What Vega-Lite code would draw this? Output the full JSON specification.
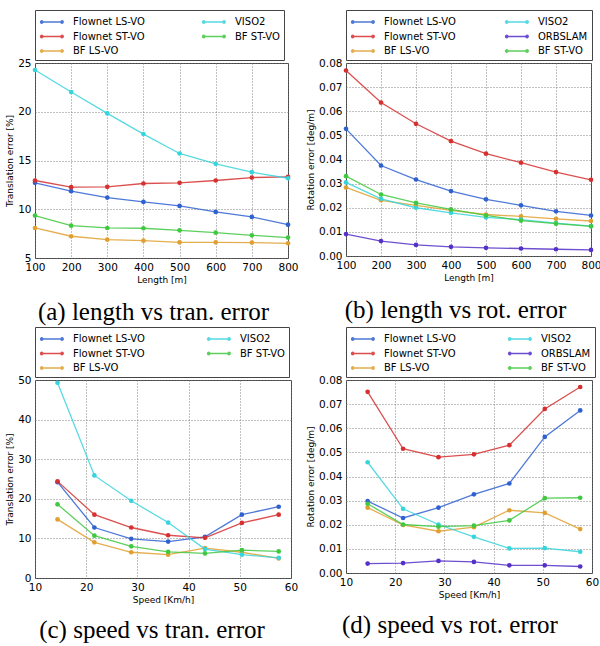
{
  "$schema": "https://vega.github.io/schema/vega-lite/v6.json",
  "padding": {"left": 5, "top": 9, "right": 0, "bottom": 0},
  "background": "white",
  "config": {
    "view": {"stroke": "#444", "strokeWidth": 1},
    "axis": {
      "labelFont": "DejaVu Sans", "labelFontSize": 10.5, "labelColor": "black",
      "titleFont": "DejaVu Sans", "titleFontSize": 9, "titleFontWeight": "normal", "titleColor": "black",
      "grid": true, "gridDash": [1, 2], "gridColor": "#777", "gridOpacity": 0.9,
      "ticks": false, "domain": false, "labelPadding": 4, "titlePadding": 3,
      "labelFlush": false, "labelOverlap": false
    },
    "legend": {
      "orient": "top", "columns": 2, "strokeColor": "#444", "fillColor": "white",
      "padding": 4, "offset": 3, "rowPadding": 1.5,
      "labelFont": "DejaVu Sans", "labelFontSize": 10, "labelColor": "black", "labelOffset": 18,
      "symbolType": "M-1,0L2.4,0M-0.75,-0.17A0.17,0.17,0,1,1,-0.75,0.17A0.17,0.17,0,1,1,-0.75,-0.17M2.15,-0.17A0.17,0.17,0,1,1,2.15,0.17A0.17,0.17,0,1,1,2.15,-0.17",
      "symbolSize": 196, "symbolStrokeWidth": 1.4
    },
    "title": {"orient": "bottom", "font": "Liberation Serif", "fontSize": 25, "fontWeight": "normal", "color": "black", "offset": 15, "anchor": "middle"}
  },
  "datasets": {
    "a": [
      {"x": 100, "y": 12.71, "m": "Flownet LS-VO"}, {"x": 200, "y": 11.85, "m": "Flownet LS-VO"}, {"x": 300, "y": 11.2, "m": "Flownet LS-VO"}, {"x": 400, "y": 10.75, "m": "Flownet LS-VO"}, {"x": 500, "y": 10.34, "m": "Flownet LS-VO"}, {"x": 600, "y": 9.73, "m": "Flownet LS-VO"}, {"x": 700, "y": 9.21, "m": "Flownet LS-VO"}, {"x": 800, "y": 8.42, "m": "Flownet LS-VO"},
      {"x": 100, "y": 12.95, "m": "Flownet ST-VO"}, {"x": 200, "y": 12.26, "m": "Flownet ST-VO"}, {"x": 300, "y": 12.3, "m": "Flownet ST-VO"}, {"x": 400, "y": 12.64, "m": "Flownet ST-VO"}, {"x": 500, "y": 12.71, "m": "Flownet ST-VO"}, {"x": 600, "y": 12.95, "m": "Flownet ST-VO"}, {"x": 700, "y": 13.25, "m": "Flownet ST-VO"}, {"x": 800, "y": 13.32, "m": "Flownet ST-VO"},
      {"x": 100, "y": 8.08, "m": "BF LS-VO"}, {"x": 200, "y": 7.23, "m": "BF LS-VO"}, {"x": 300, "y": 6.88, "m": "BF LS-VO"}, {"x": 400, "y": 6.78, "m": "BF LS-VO"}, {"x": 500, "y": 6.61, "m": "BF LS-VO"}, {"x": 600, "y": 6.61, "m": "BF LS-VO"}, {"x": 700, "y": 6.58, "m": "BF LS-VO"}, {"x": 800, "y": 6.51, "m": "BF LS-VO"},
      {"x": 100, "y": 24.28, "m": "VISO2"}, {"x": 200, "y": 22.02, "m": "VISO2"}, {"x": 300, "y": 19.83, "m": "VISO2"}, {"x": 400, "y": 17.71, "m": "VISO2"}, {"x": 500, "y": 15.72, "m": "VISO2"}, {"x": 600, "y": 14.66, "m": "VISO2"}, {"x": 700, "y": 13.8, "m": "VISO2"}, {"x": 800, "y": 13.18, "m": "VISO2"},
      {"x": 100, "y": 9.35, "m": "BF ST-VO"}, {"x": 200, "y": 8.32, "m": "BF ST-VO"}, {"x": 300, "y": 8.08, "m": "BF ST-VO"}, {"x": 400, "y": 8.05, "m": "BF ST-VO"}, {"x": 500, "y": 7.84, "m": "BF ST-VO"}, {"x": 600, "y": 7.6, "m": "BF ST-VO"}, {"x": 700, "y": 7.33, "m": "BF ST-VO"}, {"x": 800, "y": 7.09, "m": "BF ST-VO"}
    ],
    "b": [
      {"x": 100, "y": 0.0527, "m": "Flownet LS-VO"}, {"x": 200, "y": 0.0375, "m": "Flownet LS-VO"}, {"x": 300, "y": 0.0317, "m": "Flownet LS-VO"}, {"x": 400, "y": 0.0269, "m": "Flownet LS-VO"}, {"x": 500, "y": 0.0235, "m": "Flownet LS-VO"}, {"x": 600, "y": 0.021, "m": "Flownet LS-VO"}, {"x": 700, "y": 0.0185, "m": "Flownet LS-VO"}, {"x": 800, "y": 0.0168, "m": "Flownet LS-VO"},
      {"x": 100, "y": 0.0769, "m": "Flownet ST-VO"}, {"x": 200, "y": 0.0636, "m": "Flownet ST-VO"}, {"x": 300, "y": 0.0548, "m": "Flownet ST-VO"}, {"x": 400, "y": 0.0476, "m": "Flownet ST-VO"}, {"x": 500, "y": 0.0424, "m": "Flownet ST-VO"}, {"x": 600, "y": 0.0387, "m": "Flownet ST-VO"}, {"x": 700, "y": 0.0348, "m": "Flownet ST-VO"}, {"x": 800, "y": 0.0316, "m": "Flownet ST-VO"},
      {"x": 100, "y": 0.0284, "m": "BF LS-VO"}, {"x": 200, "y": 0.0231, "m": "BF LS-VO"}, {"x": 300, "y": 0.021, "m": "BF LS-VO"}, {"x": 400, "y": 0.0189, "m": "BF LS-VO"}, {"x": 500, "y": 0.0172, "m": "BF LS-VO"}, {"x": 600, "y": 0.0164, "m": "BF LS-VO"}, {"x": 700, "y": 0.0154, "m": "BF LS-VO"}, {"x": 800, "y": 0.0145, "m": "BF LS-VO"},
      {"x": 100, "y": 0.0305, "m": "VISO2"}, {"x": 200, "y": 0.0237, "m": "VISO2"}, {"x": 300, "y": 0.02, "m": "VISO2"}, {"x": 400, "y": 0.0179, "m": "VISO2"}, {"x": 500, "y": 0.016, "m": "VISO2"}, {"x": 600, "y": 0.0151, "m": "VISO2"}, {"x": 700, "y": 0.0136, "m": "VISO2"}, {"x": 800, "y": 0.0124, "m": "VISO2"},
      {"x": 100, "y": 0.0091, "m": "ORBSLAM"}, {"x": 200, "y": 0.0062, "m": "ORBSLAM"}, {"x": 300, "y": 0.0046, "m": "ORBSLAM"}, {"x": 400, "y": 0.0038, "m": "ORBSLAM"}, {"x": 500, "y": 0.0034, "m": "ORBSLAM"}, {"x": 600, "y": 0.0031, "m": "ORBSLAM"}, {"x": 700, "y": 0.0028, "m": "ORBSLAM"}, {"x": 800, "y": 0.0025, "m": "ORBSLAM"},
      {"x": 100, "y": 0.0331, "m": "BF ST-VO"}, {"x": 200, "y": 0.0255, "m": "BF ST-VO"}, {"x": 300, "y": 0.022, "m": "BF ST-VO"}, {"x": 400, "y": 0.0193, "m": "BF ST-VO"}, {"x": 500, "y": 0.0168, "m": "BF ST-VO"}, {"x": 600, "y": 0.0147, "m": "BF ST-VO"}, {"x": 700, "y": 0.0134, "m": "BF ST-VO"}, {"x": 800, "y": 0.0123, "m": "BF ST-VO"}
    ],
    "c": [
      {"x": 14.4, "y": 24.2, "m": "Flownet LS-VO"}, {"x": 21.6, "y": 12.75, "m": "Flownet LS-VO"}, {"x": 28.8, "y": 9.9, "m": "Flownet LS-VO"}, {"x": 36.0, "y": 9.2, "m": "Flownet LS-VO"}, {"x": 43.2, "y": 10.4, "m": "Flownet LS-VO"}, {"x": 50.4, "y": 16.0, "m": "Flownet LS-VO"}, {"x": 57.6, "y": 18.0, "m": "Flownet LS-VO"},
      {"x": 14.4, "y": 24.4, "m": "Flownet ST-VO"}, {"x": 21.6, "y": 16.0, "m": "Flownet ST-VO"}, {"x": 28.8, "y": 12.75, "m": "Flownet ST-VO"}, {"x": 36.0, "y": 10.8, "m": "Flownet ST-VO"}, {"x": 43.2, "y": 10.15, "m": "Flownet ST-VO"}, {"x": 50.4, "y": 13.9, "m": "Flownet ST-VO"}, {"x": 57.6, "y": 16.0, "m": "Flownet ST-VO"},
      {"x": 14.4, "y": 14.8, "m": "BF LS-VO"}, {"x": 21.6, "y": 9.0, "m": "BF LS-VO"}, {"x": 28.8, "y": 6.5, "m": "BF LS-VO"}, {"x": 36.0, "y": 5.9, "m": "BF LS-VO"}, {"x": 43.2, "y": 7.55, "m": "BF LS-VO"}, {"x": 50.4, "y": 6.5, "m": "BF LS-VO"}, {"x": 57.6, "y": 4.95, "m": "BF LS-VO"},
      {"x": 14.4, "y": 49.3, "m": "VISO2"}, {"x": 21.6, "y": 25.9, "m": "VISO2"}, {"x": 28.8, "y": 19.5, "m": "VISO2"}, {"x": 36.0, "y": 14.0, "m": "VISO2"}, {"x": 43.2, "y": 7.3, "m": "VISO2"}, {"x": 50.4, "y": 5.9, "m": "VISO2"}, {"x": 57.6, "y": 5.1, "m": "VISO2"},
      {"x": 14.4, "y": 18.6, "m": "BF ST-VO"}, {"x": 21.6, "y": 10.7, "m": "BF ST-VO"}, {"x": 28.8, "y": 8.0, "m": "BF ST-VO"}, {"x": 36.0, "y": 6.6, "m": "BF ST-VO"}, {"x": 43.2, "y": 6.2, "m": "BF ST-VO"}, {"x": 50.4, "y": 7.05, "m": "BF ST-VO"}, {"x": 57.6, "y": 6.7, "m": "BF ST-VO"}
    ],
    "d": [
      {"x": 14.4, "y": 0.0298, "m": "Flownet LS-VO"}, {"x": 21.6, "y": 0.0228, "m": "Flownet LS-VO"}, {"x": 28.8, "y": 0.0271, "m": "Flownet LS-VO"}, {"x": 36.0, "y": 0.0326, "m": "Flownet LS-VO"}, {"x": 43.2, "y": 0.0371, "m": "Flownet LS-VO"}, {"x": 50.4, "y": 0.0564, "m": "Flownet LS-VO"}, {"x": 57.6, "y": 0.0674, "m": "Flownet LS-VO"},
      {"x": 14.4, "y": 0.0751, "m": "Flownet ST-VO"}, {"x": 21.6, "y": 0.0515, "m": "Flownet ST-VO"}, {"x": 28.8, "y": 0.048, "m": "Flownet ST-VO"}, {"x": 36.0, "y": 0.0492, "m": "Flownet ST-VO"}, {"x": 43.2, "y": 0.053, "m": "Flownet ST-VO"}, {"x": 50.4, "y": 0.068, "m": "Flownet ST-VO"}, {"x": 57.6, "y": 0.0771, "m": "Flownet ST-VO"},
      {"x": 14.4, "y": 0.0271, "m": "BF LS-VO"}, {"x": 21.6, "y": 0.0199, "m": "BF LS-VO"}, {"x": 28.8, "y": 0.0173, "m": "BF LS-VO"}, {"x": 36.0, "y": 0.019, "m": "BF LS-VO"}, {"x": 43.2, "y": 0.026, "m": "BF LS-VO"}, {"x": 50.4, "y": 0.0249, "m": "BF LS-VO"}, {"x": 57.6, "y": 0.0182, "m": "BF LS-VO"},
      {"x": 14.4, "y": 0.0459, "m": "VISO2"}, {"x": 21.6, "y": 0.0266, "m": "VISO2"}, {"x": 28.8, "y": 0.0201, "m": "VISO2"}, {"x": 36.0, "y": 0.015, "m": "VISO2"}, {"x": 43.2, "y": 0.0102, "m": "VISO2"}, {"x": 50.4, "y": 0.0103, "m": "VISO2"}, {"x": 57.6, "y": 0.0088, "m": "VISO2"},
      {"x": 14.4, "y": 0.0039, "m": "ORBSLAM"}, {"x": 21.6, "y": 0.0041, "m": "ORBSLAM"}, {"x": 28.8, "y": 0.005, "m": "ORBSLAM"}, {"x": 36.0, "y": 0.0046, "m": "ORBSLAM"}, {"x": 43.2, "y": 0.0032, "m": "ORBSLAM"}, {"x": 50.4, "y": 0.0032, "m": "ORBSLAM"}, {"x": 57.6, "y": 0.0027, "m": "ORBSLAM"},
      {"x": 14.4, "y": 0.0287, "m": "BF ST-VO"}, {"x": 21.6, "y": 0.0201, "m": "BF ST-VO"}, {"x": 28.8, "y": 0.0192, "m": "BF ST-VO"}, {"x": 36.0, "y": 0.0196, "m": "BF ST-VO"}, {"x": 43.2, "y": 0.0218, "m": "BF ST-VO"}, {"x": 50.4, "y": 0.031, "m": "BF ST-VO"}, {"x": 57.6, "y": 0.0312, "m": "BF ST-VO"}
    ]
  },
  "resolve": {"scale": {"color": "independent"}, "legend": {"color": "independent"}},
  "spacing": 1,
  "vconcat": [
    {
      "spacing": 7,
      "resolve": {"scale": {"color": "independent"}, "legend": {"color": "independent"}},
      "hconcat": [
        {
          "width": 253, "height": 195,
          "data": {"name": "a"},
          "title": {"text": "(a) length vs tran. error", "dx": -8},
          "encoding": {
            "x": {"field": "x", "type": "quantitative", "scale": {"domain": [100, 800], "nice": false}, "axis": {"title": "Length [m]", "values": [100, 200, 300, 400, 500, 600, 700, 800]}},
            "y": {"field": "y", "type": "quantitative", "scale": {"domain": [5, 25], "nice": false}, "axis": {"title": "Translation error [%]", "values": [5, 10, 15, 20, 25]}},
            "color": {"field": "m", "type": "nominal", "legend": {"title": null, "columnPadding": 54},
              "scale": {"domain": ["Flownet LS-VO", "VISO2", "Flownet ST-VO", "BF ST-VO", "BF LS-VO"], "range": ["#2f62d0", "#38d4dc", "#d63030", "#40c840", "#e0a030"]}}
          },
          "layer": [
            {"mark": {"type": "line", "strokeWidth": 1.3, "opacity": 0.85}},
            {"mark": {"type": "point", "filled": true, "size": 22, "opacity": 1}}
          ]
        },
        {
          "width": 245, "height": 193,
          "data": {"name": "b"},
          "title": {"text": "(b) length vs rot. error", "dx": -13},
          "encoding": {
            "x": {"field": "x", "type": "quantitative", "scale": {"domain": [100, 800], "nice": false}, "axis": {"title": "Length [m]", "values": [100, 200, 300, 400, 500, 600, 700, 800]}},
            "y": {"field": "y", "type": "quantitative", "scale": {"domain": [0, 0.08], "nice": false}, "axis": {"title": "Rotation error [deg/m]", "format": ".2f", "values": [0, 0.01, 0.02, 0.03, 0.04, 0.05, 0.06, 0.07, 0.08]}},
            "color": {"field": "m", "type": "nominal", "legend": {"title": null, "columnPadding": 46},
              "scale": {"domain": ["Flownet LS-VO", "VISO2", "Flownet ST-VO", "ORBSLAM", "BF LS-VO", "BF ST-VO"], "range": ["#2f62d0", "#38d4dc", "#d63030", "#5530c8", "#e0a030", "#40c840"]}}
          },
          "layer": [
            {"mark": {"type": "line", "strokeWidth": 1.3, "opacity": 0.85}},
            {"mark": {"type": "point", "filled": true, "size": 22, "opacity": 1}}
          ]
        }
      ]
    },
    {
      "spacing": 7,
      "resolve": {"scale": {"color": "independent"}, "legend": {"color": "independent"}},
      "hconcat": [
        {
          "width": 256, "height": 198,
          "data": {"name": "c"},
          "title": {"text": "(c) speed vs tran. error", "dx": -11, "offset": 13},
          "encoding": {
            "x": {"field": "x", "type": "quantitative", "scale": {"domain": [10, 60], "nice": false}, "axis": {"title": "Speed [Km/h]", "values": [10, 20, 30, 40, 50, 60]}},
            "y": {"field": "y", "type": "quantitative", "scale": {"domain": [0, 50], "nice": false}, "axis": {"title": "Translation error [%]", "values": [0, 10, 20, 30, 40, 50]}},
            "color": {"field": "m", "type": "nominal", "legend": {"title": null, "columnPadding": 59},
              "scale": {"domain": ["Flownet LS-VO", "VISO2", "Flownet ST-VO", "BF ST-VO", "BF LS-VO"], "range": ["#2f62d0", "#38d4dc", "#d63030", "#40c840", "#e0a030"]}}
          },
          "layer": [
            {"mark": {"type": "line", "strokeWidth": 1.3, "opacity": 0.85}},
            {"mark": {"type": "point", "filled": true, "size": 22, "opacity": 1}}
          ]
        },
        {
          "width": 246, "height": 193,
          "data": {"name": "d"},
          "title": {"text": "(d) speed vs rot. error", "dx": -19, "offset": 13},
          "encoding": {
            "x": {"field": "x", "type": "quantitative", "scale": {"domain": [10, 60], "nice": false}, "axis": {"title": "Speed [Km/h]", "values": [10, 20, 30, 40, 50, 60]}},
            "y": {"field": "y", "type": "quantitative", "scale": {"domain": [0, 0.08], "nice": false}, "axis": {"title": "Rotation error [deg/m]", "format": ".2f", "values": [0, 0.01, 0.02, 0.03, 0.04, 0.05, 0.06, 0.07, 0.08]}},
            "color": {"field": "m", "type": "nominal", "legend": {"title": null, "columnPadding": 49},
              "scale": {"domain": ["Flownet LS-VO", "VISO2", "Flownet ST-VO", "ORBSLAM", "BF LS-VO", "BF ST-VO"], "range": ["#2f62d0", "#38d4dc", "#d63030", "#5530c8", "#e0a030", "#40c840"]}}
          },
          "layer": [
            {"mark": {"type": "line", "strokeWidth": 1.3, "opacity": 0.85}},
            {"mark": {"type": "point", "filled": true, "size": 22, "opacity": 1}}
          ]
        }
      ]
    }
  ]
}
